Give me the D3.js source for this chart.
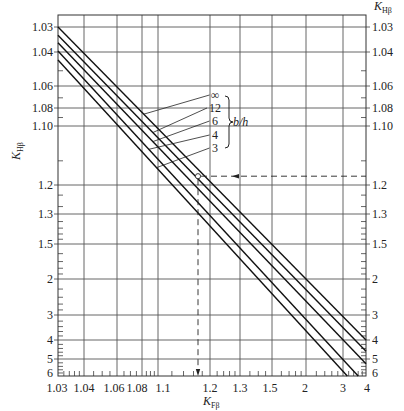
<!DOCTYPE html>
<html>
<head>
<meta charset="utf-8">
<script src="https://cdn.jsdelivr.net/npm/d3@7"></script>
<style>
  body { margin: 0; background: #fff; }
  text { font-family: "Liberation Serif", "Times New Roman", serif; fill: #222; }
</style>
</head>
<body>
<svg id="chart" width="404" height="411"></svg>
<script>
// K_Fβ axis (bottom)
const kfMajor = [1.03, 1.04, 1.06, 1.08, 1.1, 1.2, 1.3, 1.5, 2, 3, 4];
const kfLabels = ['1.03', '1.04', '1.06', '1.08', '1.1', '1.2', '1.3', '1.5', '2', '3', '4'];
const kfMinor = [1.032, 1.034, 1.036, 1.038, 1.045, 1.05, 1.055, 1.065, 1.07, 1.075,
  1.085, 1.09, 1.095, 1.12, 1.14, 1.16, 1.18, 1.22, 1.24, 1.26, 1.28, 1.35, 1.4, 1.45,
  1.6, 1.7, 1.8, 1.9, 2.2, 2.4, 2.6, 2.8, 3.2, 3.4, 3.6, 3.8];

// K_Hβ axis (left and right)
const khMajor = [1.03, 1.04, 1.06, 1.08, 1.1, 1.2, 1.3, 1.5, 2, 3, 4, 5, 6];
const khLabels = ['1.03', '1.04', '1.06', '1.08', '1.10', '1.2', '1.3', '1.5', '2', '3', '4', '5', '6'];
const khMinor = [1.05, 1.07, 1.09, 1.15, 1.23, 1.27, 1.34, 1.38, 1.42, 1.46,
  1.6, 1.7, 1.8, 1.9, 2.2, 2.4, 2.6, 2.8, 3.2, 3.4, 3.6, 3.8, 4.2, 4.4, 4.6, 4.8,
  5.2, 5.4, 5.6, 5.8];

// b/h curves, [K_Fβ, K_Hβ] at both ends
const ratios = ['∞', '12', '6', '4', '3'];
const curveStart = [[1.03, 1.03], [1.03, 1.033], [1.03, 1.036], [1.03, 1.0395], [1.03, 1.044]];
const curveEnd = [[4, 4], [4, 4.55], [4, 5.25], [3.6, 6], [3.15, 6]];
// K_Fβ where each label's leader meets its curve
const leaderAt = [1.082, 1.093, 1.093, 1.088, 1.098];

// worked example point [K_Fβ, K_Hβ]
const example = [1.17, 1.18];

const margin = { top: 15, right: 38, bottom: 35, left: 58 };
const width = 404 - margin.left - margin.right;
const height = 411 - margin.top - margin.bottom;

// the printed grid is not a clean log-log grid, so the scales are
// calibrated at each major value (offsets along the axis)
const xStops = [0, 26, 59, 84, 100, 152, 182, 214, 248, 285, 308];
const yStops = [12, 37, 71, 93, 111, 170, 199, 229, 264, 300, 325, 344, 361];
// small sideways nudges of the bottom labels, as printed
const kfLabelNudge = [-1, 0, -3, -5, 5, 0, 0, -2, -1, 0, 1];

const ll = k => Math.log(Math.log(k));
const xs = d3.scaleLinear().domain(kfMajor.map(ll)).range(xStops);
const ys = d3.scaleLinear().domain(khMajor.map(ll)).range(yStops);
const x = k => xs(ll(k));
const y = k => ys(ll(k));

const svg = d3.select('#chart');
const g = svg.append('g').attr('transform', `translate(${margin.left},${margin.top})`);

const gridColor = '#555';

// grid
g.append('g').selectAll('line')
  .data(kfMajor.slice(1, -1))
  .join('line')
  .attr('x1', d => x(d)).attr('x2', d => x(d))
  .attr('y1', 0).attr('y2', height)
  .attr('stroke', gridColor).attr('stroke-width', 0.9);

g.append('g').selectAll('line')
  .data(khMajor.slice(0, -1))
  .join('line')
  .attr('x1', -4).attr('x2', width + 4)
  .attr('y1', d => y(d)).attr('y2', d => y(d))
  .attr('stroke', gridColor).attr('stroke-width', 0.9);

// minor ticks, pointing inwards
const minor = g.append('g').attr('stroke', gridColor).attr('stroke-width', 0.9);
minor.selectAll('.mb').data(kfMinor).join('line').attr('class', 'mb')
  .attr('x1', d => x(d)).attr('x2', d => x(d))
  .attr('y1', height).attr('y2', height - 5);
minor.selectAll('.ml').data(khMinor).join('line').attr('class', 'ml')
  .attr('x1', 0).attr('x2', 5)
  .attr('y1', d => y(d)).attr('y2', d => y(d));
minor.selectAll('.mr').data(khMinor).join('line').attr('class', 'mr')
  .attr('x1', width).attr('x2', width - 5)
  .attr('y1', d => y(d)).attr('y2', d => y(d));

// frame
g.append('rect')
  .attr('width', width).attr('height', height)
  .attr('fill', 'none').attr('stroke', '#333').attr('stroke-width', 1);

// tick labels
const fs = 12;
g.append('g').selectAll('text')
  .data(kfMajor)
  .join('text')
  .attr('x', (d, i) => x(d) + kfLabelNudge[i]).attr('y', height + 16)
  .attr('text-anchor', 'middle').attr('font-size', fs)
  .text((d, i) => kfLabels[i]);

g.append('g').selectAll('text')
  .data(khMajor)
  .join('text')
  .attr('x', -5).attr('y', d => y(d)).attr('dy', (d, i) => i === khMajor.length - 1 ? '0.1em' : '0.33em')
  .attr('text-anchor', 'end').attr('font-size', fs)
  .text((d, i) => khLabels[i]);

g.append('g').selectAll('text')
  .data(khMajor)
  .join('text')
  .attr('x', width + 6).attr('y', d => y(d)).attr('dy', (d, i) => i === khMajor.length - 1 ? '0.1em' : '0.33em')
  .attr('text-anchor', 'start').attr('font-size', fs)
  .text((d, i) => khLabels[i]);

// axis titles
function kTitle(sel, sub) {
  sel.append('tspan').attr('font-style', 'italic').attr('font-size', 12).text('K');
  sel.append('tspan').attr('font-size', 8).attr('dy', 3).text(sub);
}
kTitle(svg.append('text').attr('transform', 'translate(20,151) rotate(-90)')
  .attr('text-anchor', 'middle'), 'Hβ');
kTitle(svg.append('text').attr('x', 374).attr('y', 10), 'Hβ');
kTitle(svg.append('text').attr('x', 203).attr('y', 405), 'Fβ');

// b/h curves
const curves = ratios.map((r, i) => [curveStart[i], curveEnd[i]]);
const line = d3.line().x(d => x(d[0])).y(d => y(d[1]));
g.append('g').selectAll('path')
  .data(curves)
  .join('path')
  .attr('d', line)
  .attr('fill', 'none').attr('stroke', '#111').attr('stroke-width', 1.4);

// leaders and labels
const labelX = 157;
const labelY = [80, 93, 106, 120, 133];
const pointOn = (c, kf) => {
  const p0 = [x(c[0][0]), y(c[0][1])], p1 = [x(c[1][0]), y(c[1][1])];
  const px = x(kf);
  return [px, p0[1] + (p1[1] - p0[1]) * (px - p0[0]) / (p1[0] - p0[0])];
};
const lab = g.append('g');
ratios.forEach((r, i) => {
  const p = pointOn(curves[i], leaderAt[i]);
  const w = r.length > 1 ? 7 : 4.5;
  lab.append('line')
    .attr('x1', labelX - w - 1).attr('y1', labelY[i])
    .attr('x2', p[0]).attr('y2', p[1])
    .attr('stroke', '#222').attr('stroke-width', 0.8);
  lab.append('text')
    .attr('x', labelX).attr('y', labelY[i]).attr('dy', '0.35em')
    .attr('text-anchor', 'middle').attr('font-size', 12)
    .text(r);
});
// brace
const bx = 167, bt = 81, bb = 133, bm = (bt + bb) / 2;
lab.append('path')
  .attr('d', `M${bx},${bt} q4,0 4,4 v${bm - bt - 8} q0,4 4,4 q-4,0 -4,4 v${bb - bm - 8} q0,4 -4,4`)
  .attr('fill', 'none').attr('stroke', '#222').attr('stroke-width', 1);
lab.append('text')
  .attr('x', bx + 8).attr('y', bm).attr('dy', '0.35em')
  .attr('font-size', 12).attr('font-style', 'italic')
  .text('b/h');

// worked example
const ex = x(example[0]), ey = y(example[1]);
const dash = g.append('g').attr('stroke', '#222').attr('stroke-width', 0.9)
  .attr('stroke-dasharray', '6,4').attr('fill', 'none');
dash.append('line').attr('x1', ex + 3).attr('y1', ey).attr('x2', width).attr('y2', ey);
dash.append('line').attr('x1', ex).attr('y1', ey + 3).attr('x2', ex).attr('y2', height - 6);
g.append('circle')
  .attr('cx', ex).attr('cy', ey).attr('r', 2.6)
  .attr('fill', '#fff').attr('stroke', '#222').attr('stroke-width', 0.9);
// arrow heads
const arrowX = x(1.3) - 8;
g.append('path')
  .attr('d', `M${arrowX},${ey} l7,-2.2 v4.4 z`)
  .attr('fill', '#222');
g.append('path')
  .attr('d', `M${ex},${height} l-2.2,-7 h4.4 z`)
  .attr('fill', '#222');
</script>
</body>
</html>
